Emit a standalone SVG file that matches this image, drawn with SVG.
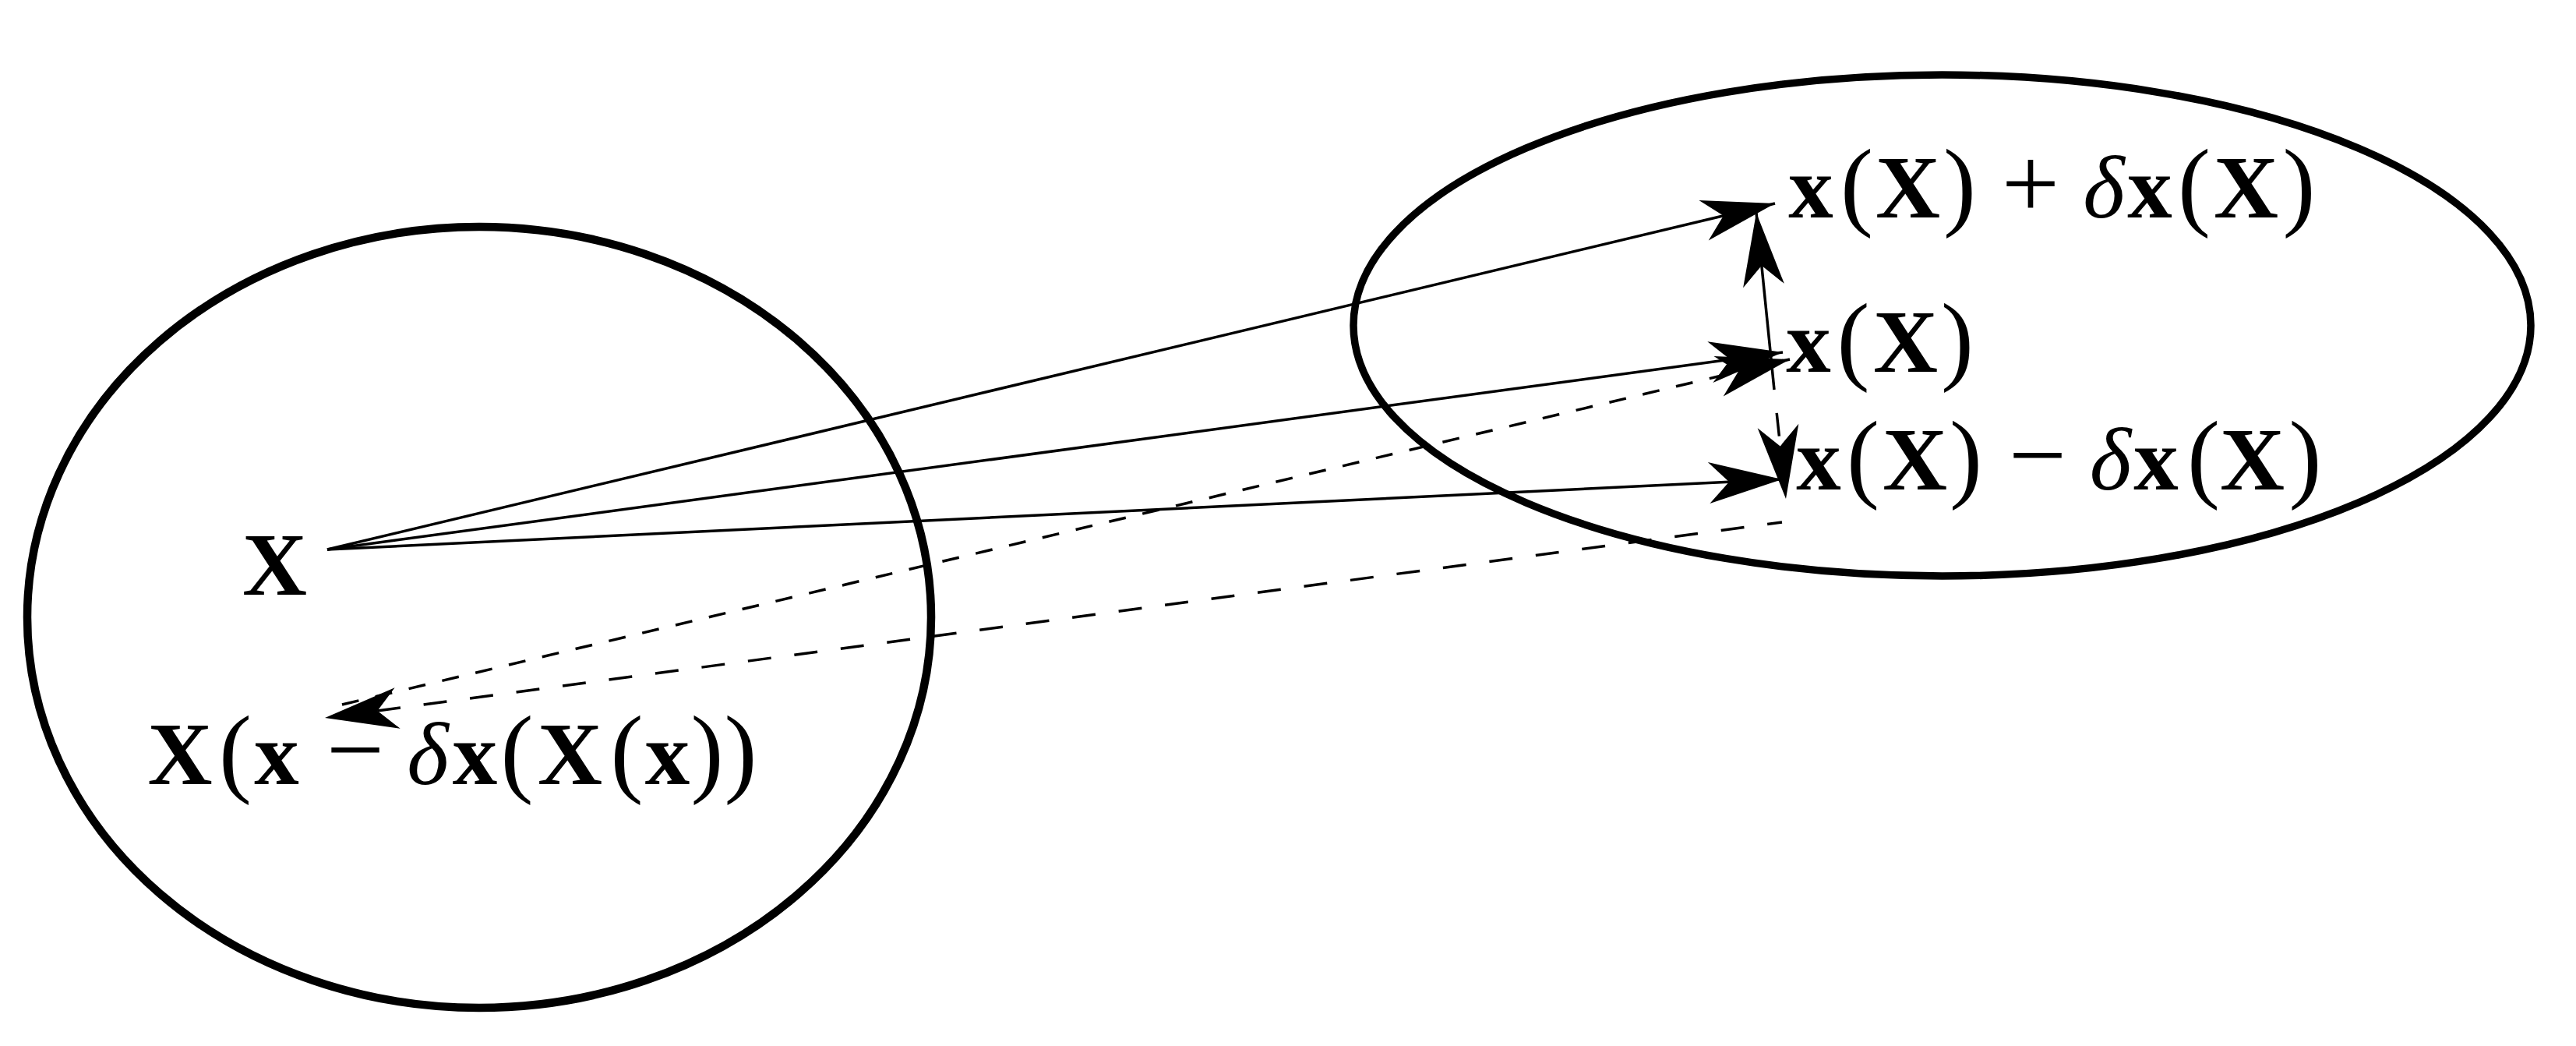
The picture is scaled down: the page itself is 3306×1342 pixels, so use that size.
<svg xmlns="http://www.w3.org/2000/svg" width="3306" height="1342" viewBox="0 0 3306 1342">
<style>
.bg{fill:#fff}
.region{fill:none;stroke:#000}
.lbl{font-family:"Liberation Serif","Times New Roman",serif;font-size:115px;fill:#000;text-anchor:middle}
.b{font-weight:bold}
.i{font-style:italic}
.p{font-size:126px}
.o{font-size:132px}
.c{fill:none;stroke:#000;stroke-width:3.5;marker-end:url(#ah)}
.d1{stroke-dasharray:30 30}
.d2{stroke-dasharray:22 22}
</style>
<defs>
<marker id="ah" markerUnits="userSpaceOnUse" orient="auto" refX="0" refY="0" markerWidth="200" markerHeight="200" overflow="visible">
<path d="M0,0 L-94,-26.5 L-68,0 L-94,26.5 Z" fill="#000" stroke="none"/>
</marker>
</defs>
<rect class="bg" x="0" y="0" width="3306" height="1342"/>
<g id="regions">
<ellipse id="domain-left" class="region" cx="615" cy="792" rx="580" ry="501" stroke-width="10.5"/>
<ellipse id="domain-right" class="region" cx="2492.5" cy="417.5" rx="755.5" ry="321.5" stroke-width="9.5"/>
</g>
<g id="connectors">
<line class="c" x1="420" y1="705" x2="2278" y2="261"/>
<line class="c" x1="420" y1="705" x2="2288" y2="452"/>
<line class="c" x1="420" y1="705" x2="2287" y2="615"/>
<line class="c" x1="2277" y1="500" x2="2254" y2="273"/>
<line class="c d1" x1="2277" y1="500" x2="2292" y2="640" stroke-dashoffset="30"/>
<line class="c d2" x1="439" y1="904" x2="2297" y2="461"/>
<line class="c d1" x1="2287" y1="670" x2="417" y2="921" stroke-dashoffset="11"/>
</g>
<g id="node-xX-plus">
<text class="lbl" y="279"><tspan class="b" x="2324">x</tspan><tspan class="p" x="2383">(</tspan><tspan class="b" x="2448.5">X</tspan><tspan class="p" x="2515">)</tspan><tspan class="o" x="2606">+</tspan><tspan class="i" x="2700">δ</tspan><tspan class="b" x="2759">x</tspan><tspan class="p" x="2816">(</tspan><tspan class="b" x="2882.5">X</tspan><tspan class="p" x="2950.5">)</tspan></text>
</g>
<g id="node-xX">
<text class="lbl" y="477"><tspan class="b" x="2321">x</tspan><tspan class="p" x="2378.5">(</tspan><tspan class="b" x="2445.5">X</tspan><tspan class="p" x="2512">)</tspan></text>
</g>
<g id="node-xX-minus">
<text class="lbl" y="628"><tspan class="b" x="2334">x</tspan><tspan class="p" x="2391">(</tspan><tspan class="b" x="2457.5">X</tspan><tspan class="p" x="2523">)</tspan><tspan class="o" x="2615">−</tspan><tspan class="i" x="2708.5">δ</tspan><tspan class="b" x="2767">x</tspan><tspan class="p" x="2828">(</tspan><tspan class="b" x="2890.5">X</tspan><tspan class="p" x="2958.5">)</tspan></text>
</g>
<g id="node-X">
<text class="lbl b" x="352.5" y="763">X</text>
</g>
<g id="node-Xback">
<text class="lbl" y="1006"><tspan class="b" x="231">X</tspan><tspan class="p" x="302">(</tspan><tspan class="b" x="355">x</tspan><tspan class="o" x="456">−</tspan><tspan class="i" x="549">δ</tspan><tspan class="b" x="609.5">x</tspan><tspan class="p" x="663.5">(</tspan><tspan class="b" x="731.5">X</tspan><tspan class="p" x="804.5">(</tspan><tspan class="b" x="856.5">x</tspan><tspan class="p" x="907.5">)</tspan><tspan class="p" x="950.5">)</tspan></text>
</g>
</svg>
